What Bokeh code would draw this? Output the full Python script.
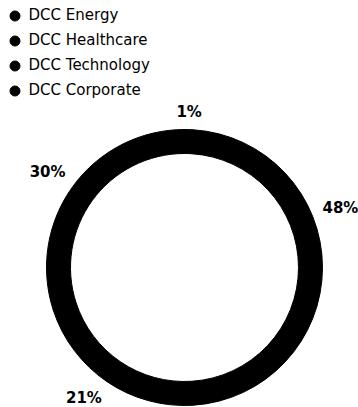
import math
from bokeh.plotting import figure
from bokeh.models import ColumnDataSource, Range1d, Legend, LegendItem
from bokeh.core.properties import value
from bokeh.embed import file_html
from bokeh.resources import INLINE

# ---- data ----
categories = ["DCC Energy", "DCC Healthcare", "DCC Technology", "DCC Corporate"]
shares = [48, 21, 30, 1]
share_labels = ["48%", "21%", "30%", "1%"]
colors = ["#000000", "#000000", "#000000", "#000000"]

# ---- layout parameters ----
W, H = 358, 407
cx, cy = 184, 140          # donut centre (data units = pixels, y up)
r_outer, r_inner = 138, 114
label_r = 147
start_deg = 3.6            # rotation clockwise from 12 o'clock
FONT = "DejaVu Sans"
label_px = 15

total = float(sum(shares))
starts, ends, mids = [], [], []
acc = start_deg
for v in shares:
    span = 360.0 * v / total
    starts.append(acc)
    ends.append(acc + span)
    mids.append(acc + span / 2)
    acc += span

# convert clockwise-from-top degrees to bokeh radians (ccw from +x)
def to_rad(d):
    return math.radians(90.0 - d)

src = ColumnDataSource(dict(
    cat=categories,
    start=[to_rad(e) for e in ends],
    end=[to_rad(s) for s in starts],
    color=colors,
    xs=[float("nan")] * len(categories),
    ys=[float("nan")] * len(categories),
))

p = figure(width=W, height=H, output_backend="svg", toolbar_location=None,
           x_range=Range1d(0, W), y_range=Range1d(0, H), min_border=0,
           background_fill_color="white", border_fill_color="white")
p.axis.visible = False
p.grid.visible = False
p.outline_line_color = None

p.annular_wedge(x=cx, y=cy, inner_radius=r_inner, outer_radius=r_outer,
                start_angle="start", end_angle="end", direction="anticlock",
                fill_color="color", line_color="color", line_width=1, source=src)

# legend dots (legend-only renderer)
dots = p.scatter(x="xs", y="ys", size=10, fill_color="color", line_color="color", source=src)
items = [LegendItem(label=c, renderers=[dots], index=i) for i, c in enumerate(categories)]
legend = Legend(items=items, location=(1.5, 304.5), orientation="vertical",
                padding=0, margin=0, spacing=0, glyph_width=25, glyph_height=25,
                label_standoff=2, label_text_font=FONT, label_text_font_size="15px",
                label_text_color="#000000", border_line_alpha=0,
                background_fill_alpha=0)
p.add_layout(legend, "center")

# percentage labels outside the ring
for lab, m in zip(share_labels, mids):
    th = math.radians(m)
    s, c = math.sin(th), math.cos(th)
    x = cx + label_r * s
    y = cy + label_r * c
    w = label_px * (0.7 * (len(lab) - 1) + 1.0)
    if abs(s) < 0.2:
        align = "center"
    elif s > 0:
        align = "left"
    else:
        align = "right"
    baseline = "bottom" if c >= 0 else "top"
    # keep label inside the canvas by sliding it along the label circle
    if align == "left" and x + w > W:
        x = W - w
        dx = x - cx
        y = cy + math.sqrt(max(label_r ** 2 - dx ** 2, 0))
        baseline = "bottom"
    p.text(x=[x], y=[y], text=[lab], text_align=align, text_baseline=baseline,
           text_font=value(FONT), text_font_style="bold",
           text_font_size=f"{label_px}px", text_color="#000000")

open("out.html", "w").write(file_html(p, INLINE))
